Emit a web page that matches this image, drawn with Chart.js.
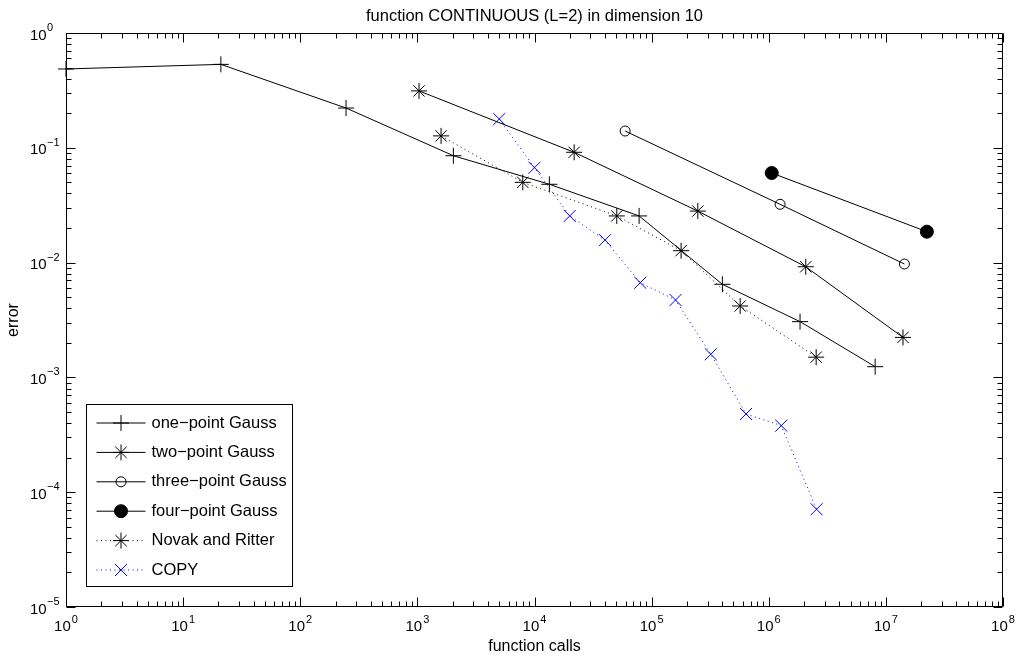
<!DOCTYPE html>
<html>
<head>
<meta charset="utf-8">
<script src="https://cdn.jsdelivr.net/npm/chart.js@4/dist/chart.umd.min.js"></script>
<style>
  html, body { margin: 0; padding: 0; background: #fff; }
  canvas { display: block; }
</style>
</head>
<body>
<canvas id="chart" width="1018" height="663"></canvas>
<script>
// labels
const TITLE = 'function CONTINUOUS (L=2) in dimension 10';
const X_LABEL = 'function calls';
const Y_LABEL = 'error';

// tick decades (labels drawn as 10^n)
const xDecades = [0, 1, 2, 3, 4, 5, 6, 7, 8];
const yDecades = [-5, -4, -3, -2, -1, 0];

// series
const onePtCalls = [1, 21, 246, 2030, 13400, 78200, 402000, 1850000, 8100000];
const onePtErr   = [0.486, 0.533, 0.222, 0.0853, 0.0481, 0.0255, 0.00647, 0.00306, 0.00124];

const twoPtCalls = [1033, 21800, 248000, 2070000, 14000000];
const twoPtErr   = [0.313, 0.0914, 0.0281, 0.0092, 0.00223];

const threePtCalls = [59400, 1250000, 14400000];
const threePtErr   = [0.140, 0.0322, 0.00972];

const fourPtCalls = [1060000, 22400000];
const fourPtErr   = [0.0603, 0.0186];

const novakCalls = [1593, 7940, 50400, 178500, 570000, 2540000];
const novakErr   = [0.127, 0.050, 0.0255, 0.0127, 0.00419, 0.0015];

const copyCalls = [5000, 10000, 20000, 40000, 80000, 160000, 320000, 640000, 1280000, 2560000];
const copyErr   = [0.178, 0.0671, 0.0255, 0.0157, 0.00668, 0.00472, 0.00159, 0.00048, 0.00038, 0.000071];

const FONT = '"Liberation Sans", Arial, Helvetica, sans-serif';

function series(xs, ys) {
  return xs.map((x, i) => ({ x, y: ys[i] }));
}

function supText(n) {
  return n < 0 ? '\u2212' + Math.abs(n) : String(n);
}

// MATLAB style box: inward ticks on all four sides, 10^n labels, title over the axes
const axesBox = {
  id: 'axesBox',
  beforeDatasetsDraw(chart) {
    const { ctx, chartArea: a, scales: { x, y } } = chart;
    const L = Math.round(a.left) + 0.5, R = Math.round(a.right) - 0.5;
    const T = Math.round(a.top) + 0.5, B = Math.round(a.bottom) - 0.5;
    ctx.save();
    ctx.strokeStyle = '#000';
    ctx.lineWidth = 1;
    ctx.beginPath();
    ctx.rect(L, T, R - L, B - T);

    xDecades.forEach(d => {
      for (let m = 1; m <= 9; m++) {
        const v = m * Math.pow(10, d);
        if (v > x.max) break;
        const px = Math.round(x.getPixelForValue(v)) + 0.5;
        const len = m === 1 ? 9 : 5;
        ctx.moveTo(px, B); ctx.lineTo(px, B - len);
        ctx.moveTo(px, T); ctx.lineTo(px, T + len);
      }
    });
    yDecades.forEach(d => {
      for (let m = 1; m <= 9; m++) {
        const v = m * Math.pow(10, d);
        if (v > y.max) break;
        const py = Math.round(y.getPixelForValue(v)) + 0.5;
        const len = m === 1 ? 9 : 5;
        ctx.moveTo(L, py); ctx.lineTo(L + len, py);
        ctx.moveTo(R, py); ctx.lineTo(R - len, py);
      }
    });
    ctx.stroke();

    ctx.fillStyle = '#000';
    ctx.textBaseline = 'alphabetic';

    // title, centred over the axes
    ctx.textAlign = 'center';
    ctx.font = '16.5px ' + FONT;
    ctx.fillText(TITLE, (a.left + a.right) / 2, 21);

    // tick labels
    ctx.textAlign = 'left';
    const baseFont = '15px ' + FONT, expFont = '11px ' + FONT;
    xDecades.forEach(d => {
      const px = x.getPixelForValue(Math.pow(10, d));
      ctx.font = baseFont;
      const w10 = ctx.measureText('10').width;
      ctx.font = expFont;
      const e = supText(d);
      const we = ctx.measureText(e).width;
      const sx = px - (w10 + we + 1) / 2;
      ctx.font = baseFont;
      ctx.fillText('10', sx, a.bottom + 24);
      ctx.font = expFont;
      ctx.fillText(e, sx + w10 + 1, a.bottom + 15.5);
    });
    yDecades.forEach(d => {
      const py = y.getPixelForValue(Math.pow(10, d));
      ctx.font = baseFont;
      ctx.fillText('10', a.left - 36, py + 6.5);
      ctx.font = expFont;
      ctx.fillText(supText(d), a.left - 19, py - 2);
    });
    ctx.restore();
  }
};

// legend box with line sample + marker
const lineLegend = {
  id: 'lineLegend',
  afterDatasetsDraw(chart) {
    const { ctx, chartArea: a } = chart;
    const left = a.left + 20.5, top = a.top + 371.5, w = 206, h = 182;
    ctx.save();
    ctx.fillStyle = '#fff';
    ctx.fillRect(left, top, w, h);
    ctx.strokeStyle = '#000';
    ctx.lineWidth = 1;
    ctx.strokeRect(left, top, w, h);
    ctx.font = '16.5px ' + FONT;
    ctx.textBaseline = 'middle';
    chart.data.datasets.forEach((ds, i) => {
      const cy = top + 18.5 + i * 29.4;
      ctx.strokeStyle = ds.borderColor;
      ctx.lineWidth = ds.borderWidth;
      ctx.setLineDash(ds.borderDash || []);
      ctx.beginPath();
      ctx.moveTo(left + 10, cy);
      ctx.lineTo(left + 59, cy);
      ctx.stroke();
      ctx.setLineDash([]);
      ctx.fillStyle = ds.pointBackgroundColor;
      ctx.strokeStyle = ds.pointBorderColor;
      ctx.lineWidth = 1;
      Chart.helpers.drawPoint(ctx, {
        pointStyle: ds.pointStyle, radius: ds.pointRadius, rotation: 0, borderWidth: 1
      }, left + 34.5, cy);
      ctx.fillStyle = '#000';
      ctx.fillText(ds.label, left + 65, cy);
    });
    ctx.restore();
  }
};

function ds(label, xs, ys, opts) {
  return Object.assign({
    label,
    data: series(xs, ys),
    borderColor: '#000',
    borderWidth: 1,
    pointBorderColor: '#000',
    pointBackgroundColor: 'transparent',
    pointBorderWidth: 1,
    pointHoverRadius: 0,
    fill: false,
    tension: 0,
    clip: false
  }, opts);
}

const datasets = [
  ds('one\u2212point Gauss', onePtCalls, onePtErr, { pointStyle: 'cross', pointRadius: 8 }),
  ds('two\u2212point Gauss', twoPtCalls, twoPtErr, { pointStyle: 'star', pointRadius: 8 }),
  ds('three\u2212point Gauss', threePtCalls, threePtErr, { pointStyle: 'circle', pointRadius: 5 }),
  ds('four\u2212point Gauss', fourPtCalls, fourPtErr, { pointStyle: 'circle', pointRadius: 6.5, pointBackgroundColor: '#000' }),
  ds('Novak and Ritter', novakCalls, novakErr, { pointStyle: 'star', pointRadius: 8, borderDash: [1, 3.5] }),
  ds('COPY', copyCalls, copyErr, {
    pointStyle: 'crossRot', pointRadius: 8.5, borderColor: '#0000ff', pointBorderColor: '#0000ff', borderDash: [1, 3.5]
  })
];

new Chart(document.getElementById('chart'), {
  type: 'line',
  data: { datasets },
  options: {
    responsive: false,
    animation: false,
    devicePixelRatio: 1,
    events: [],
    layout: { padding: { left: 0, right: 15, top: 33, bottom: 0 } },
    plugins: {
      legend: { display: false },
      tooltip: { enabled: false },
      title: { display: false }
    },
    scales: {
      x: {
        type: 'logarithmic',
        min: 1,
        max: 1e8,
        grid: { display: false },
        border: { display: false },
        ticks: { display: false },
        title: {
          display: true, text: X_LABEL, color: '#000',
          font: { family: FONT, size: 16, lineHeight: 1.2 },
          padding: { top: 0, bottom: 7 }
        },
        afterFit: s => { s.height = 56; }
      },
      y: {
        type: 'logarithmic',
        min: 1e-5,
        max: 1,
        grid: { display: false },
        border: { display: false },
        ticks: { display: false },
        title: {
          display: true, text: Y_LABEL, color: '#000',
          font: { family: FONT, size: 16, lineHeight: 1.2 },
          padding: { top: 4, bottom: 0 }
        },
        afterFit: s => { s.width = 66; }
      }
    }
  },
  plugins: [axesBox, lineLegend]
});
</script>
</body>
</html>
